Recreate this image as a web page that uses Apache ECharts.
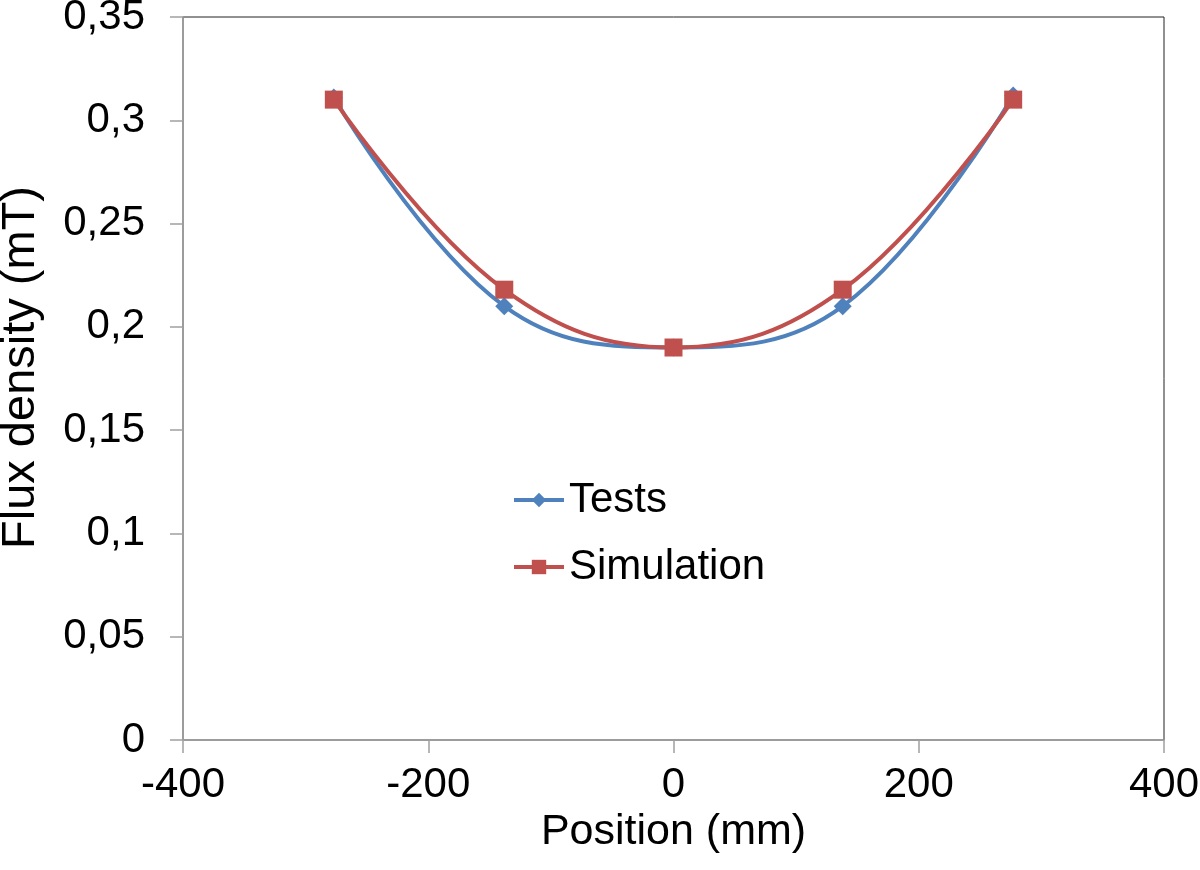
<!DOCTYPE html>
<html>
<head>
<meta charset="utf-8">
<script src="https://cdn.jsdelivr.net/npm/echarts@6/dist/echarts.min.js"></script>
<style>
  html, body { margin: 0; padding: 0; background: #fff; }
  #chart { width: 1200px; height: 870px; }
</style>
</head>
<body>
<div id="chart"></div>
<script>
// positions (mm) and measured / simulated flux density (mT)
var positions = [-277, -138, 0, 138, 277];
var testsValues = [0.311, 0.21, 0.19, 0.21, 0.312];
var simulationValues = [0.31, 0.218, 0.19, 0.218, 0.31];

function pairs(xs, ys) {
  return xs.map(function (x, i) { return [x, ys[i]]; });
}

var font = 'Liberation Sans, Arial, sans-serif';
var axisGray = '#a0a0a0';

var chart = echarts.init(document.getElementById('chart'));
chart.setOption({
  backgroundColor: '#fff',
  animation: false,
  grid: {
    left: 183,
    right: 36,
    top: 17,
    bottom: 130,
    containLabel: false,
    outerBoundsMode: 'none',
    show: true,
    borderColor: '#222',
    borderWidth: 1
  },
  legend: {
    orient: 'vertical',
    left: 512,
    top: 477,
    padding: 0,
    itemWidth: 50,
    itemHeight: 18,
    itemGap: 21,
    lineStyle: { width: 4 },
    textStyle: { fontFamily: font, fontSize: 42, color: '#000', lineHeight: 46 },
    data: ['Tests', 'Simulation']
  },
  xAxis: {
    type: 'value',
    min: -400,
    max: 400,
    interval: 200,
    name: 'Position (mm)',
    nameLocation: 'middle',
    nameGap: 64,
    nameTextStyle: { fontFamily: font, fontSize: 43, color: '#000' },
    axisLine: { onZero: false, lineStyle: { color: axisGray, width: 1.5 } },
    axisTick: { show: true, length: 13, lineStyle: { color: axisGray, width: 1.5 } },
    axisLabel: { margin: 24, fontFamily: font, fontSize: 42, color: '#000' },
    splitLine: { show: false }
  },
  yAxis: {
    type: 'value',
    min: 0,
    max: 0.35,
    interval: 0.05,
    name: 'Flux density (mT)',
    nameLocation: 'middle',
    nameGap: 138,
    nameTextStyle: { fontFamily: font, fontSize: 47, color: '#000', padding: [0, 0, 0, 22] },
    axisLine: { show: true, onZero: false, lineStyle: { color: axisGray, width: 1.5 } },
    axisTick: { show: true, length: 13, lineStyle: { color: axisGray, width: 1.5 } },
    axisLabel: {
      margin: 38,
      fontFamily: font,
      fontSize: 42,
      color: '#000',
      formatter: function (v) { return String(+v.toFixed(2)).replace('.', ','); }
    },
    splitLine: { show: false }
  },
  series: [
    {
      name: 'Tests',
      type: 'line',
      smooth: 0.4,
      data: pairs(positions, testsValues),
      symbol: 'diamond',
      symbolSize: 18,
      itemStyle: { color: '#4F81BD' },
      lineStyle: { color: '#4F81BD', width: 4 }
    },
    {
      name: 'Simulation',
      type: 'line',
      smooth: 0.4,
      data: pairs(positions, simulationValues),
      symbol: 'rect',
      symbolSize: 18,
      itemStyle: { color: '#C0504D' },
      lineStyle: { color: '#C0504D', width: 4 }
    }
  ]
});
</script>
</body>
</html>
